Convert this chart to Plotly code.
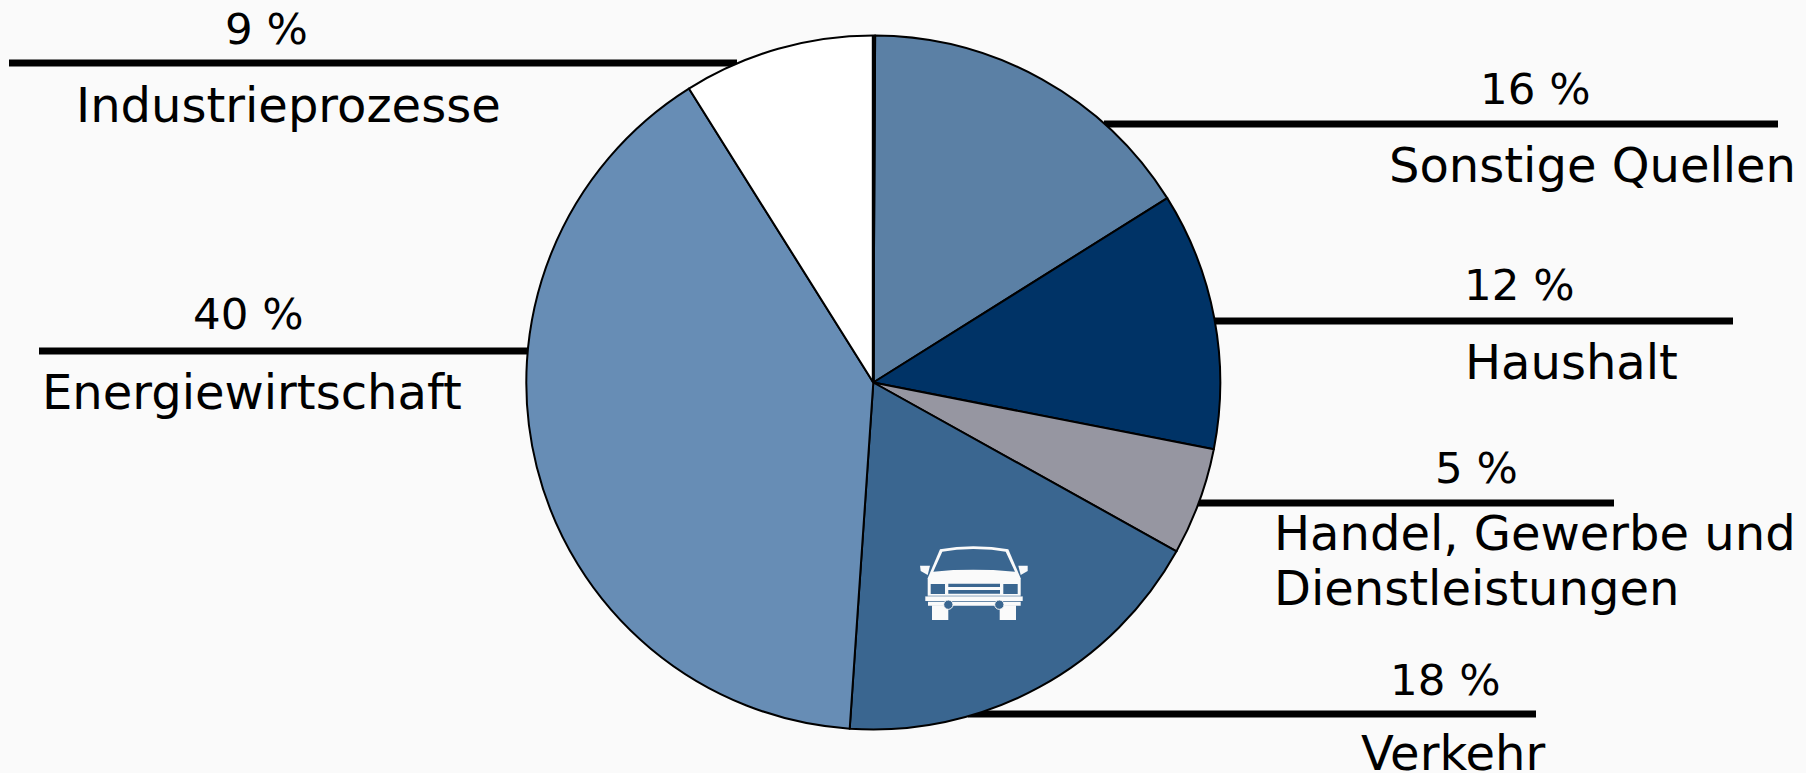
import plotly.graph_objects as go

# Emission shares by source, clockwise from the top of the pie
categories = ["Sonstige Quellen", "Haushalt", "Handel, Gewerbe und<br>Dienstleistungen",
              "Verkehr", "Energiewirtschaft", "Industrieprozesse"]
shares = [16, 12, 5, 18, 40, 9]
share_labels = ["16 %", "12 %", "5 %", "18 %", "40 %", "9 %"]
slice_colors = ["#5b80a5", "#003366", "#9696a1", "#3a6690", "#678db5", "#ffffff"]

W, H = 1806, 773
BG = "#fafafa"
FONT = "DejaVu Sans"
FS_NAME = 48
FS_VALUE = 43.5
LINE_GAP = 55
CX, CY, R = 873.3, 382.5, 347
VERKEHR = "#3a6690"


def px(x):
    return x / W


def py(y):
    return 1 - y / H


fig = go.Figure(go.Pie(
    labels=categories,
    values=shares,
    sort=False,
    direction="clockwise",
    rotation=0.3,
    textinfo="none",
    hoverinfo="skip",
    showlegend=False,
    marker=dict(colors=slice_colors, line=dict(color="#000000", width=2)),
    domain=dict(x=[px(CX - R), px(CX + R)], y=[py(CY + R), py(CY - R)]),
))

# Leader rules: x0, x1, y for each category
rules = [(1104, 1778, 124), (1215, 1733, 321), (1198, 1614, 503),
         (968, 1536, 714), (39, 528, 351), (9, 737, 63)]
# Value label centre, then category label anchor
value_pos = [(1535, 89), (1519, 285), (1476, 468), (1445, 680), (248, 314), (266, 29)]
name_pos = [(1592, 165, "center"), (1571, 362, "center"), (1272, 533, "left"),
            (1453, 753, "center"), (252, 392, "center"), (288, 105, "center")]

shapes = []
for x0, x1, y in rules:
    shapes.append(dict(type="line", layer="below", xref="x", yref="y",
                       x0=x0, x1=x1, y0=y, y1=y,
                       line=dict(color="#000000", width=7)))

# Sliver at twelve o'clock, where the first and last slices meet
shapes.append(dict(type="line", layer="above", xref="x", yref="y",
                   x0=CX, x1=CX, y0=CY - R, y1=CY,
                   line=dict(color="#000000", width=3)))


# Car pictogram, drawn in a local 3x grid and placed inside the Verkehr slice
def cx(v):
    return 860 + v / 3


def cy(v):
    return 500 + v / 3


def poly(points, color, closed=True):
    d = "M" + " L".join(f"{cx(a):.1f},{cy(b):.1f}" for a, b in points) + (" Z" if closed else "")
    return dict(type="path", layer="above", xref="x", yref="y", path=d,
                fillcolor=color, line=dict(width=0))


def box(a0, a1, b0, b1, color):
    return poly([(a0, b0), (a1, b0), (a1, b1), (a0, b1)], color)


def disc(a, b, r, fill, edge):
    return dict(type="circle", layer="above", xref="x", yref="y",
                x0=cx(a - r), x1=cx(a + r), y0=cy(b - r), y1=cy(b + r),
                fillcolor=fill, line=dict(color=edge, width=1))


body = [(203, 290), (203, 235), (240, 148), (290, 141), (340, 139), (395, 141), (445, 148),
        (482, 235), (482, 290)]
windshield = [(220, 215), (247, 155), (290, 149), (340, 147), (395, 149), (437, 155),
              (465, 215), (400, 210), (340, 209), (280, 210)]
shapes += [
    poly(body, BG),
    poly(windshield, VERKEHR),
    poly([(180, 197), (210, 197), (203, 225), (182, 213)], BG),
    poly([(475, 197), (503, 197), (503, 213), (482, 225)], BG),
    box(212, 255, 252, 282, VERKEHR),
    box(430, 473, 252, 282, VERKEHR),
    box(265, 420, 251, 261, VERKEHR),
    box(265, 420, 270, 281, VERKEHR),
    box(204, 482, 302, 317, BG),
    box(216, 265, 316, 360, BG),
    box(419, 468, 316, 360, BG),
    box(196, 488, 289, 303, BG),
    box(196, 488, 287, 289, VERKEHR),
    box(196, 488, 303, 305, VERKEHR),
    disc(265, 314, 14, VERKEHR, BG),
    disc(418, 314, 14, VERKEHR, BG),
]

annotations = []
for label, (x, y) in zip(share_labels, value_pos):
    annotations.append(dict(x=x, y=y, xref="x", yref="y", text=label, showarrow=False,
                            xanchor="center", yanchor="middle",
                            font=dict(family=FONT, size=FS_VALUE, color="#000000")))
for name, (x, y, anchor) in zip(categories, name_pos):
    # Each wrapped line is placed on its own so the leading stays tight
    for i, line in enumerate(name.split("<br>")):
        annotations.append(dict(x=x, y=y + i * LINE_GAP, xref="x", yref="y", text=line,
                                showarrow=False, xanchor=anchor, yanchor="middle",
                                font=dict(family=FONT, size=FS_NAME, color="#000000")))

fig.update_layout(
    width=W, height=H,
    margin=dict(l=0, r=0, t=0, b=0),
    paper_bgcolor=BG, plot_bgcolor=BG,
    xaxis=dict(visible=False, range=[0, W], domain=[0, 1], fixedrange=True),
    yaxis=dict(visible=False, range=[H, 0], domain=[0, 1], fixedrange=True),
    shapes=shapes,
    annotations=annotations,
)
fig.write_html("out.html", config={"displayModeBar": False})
